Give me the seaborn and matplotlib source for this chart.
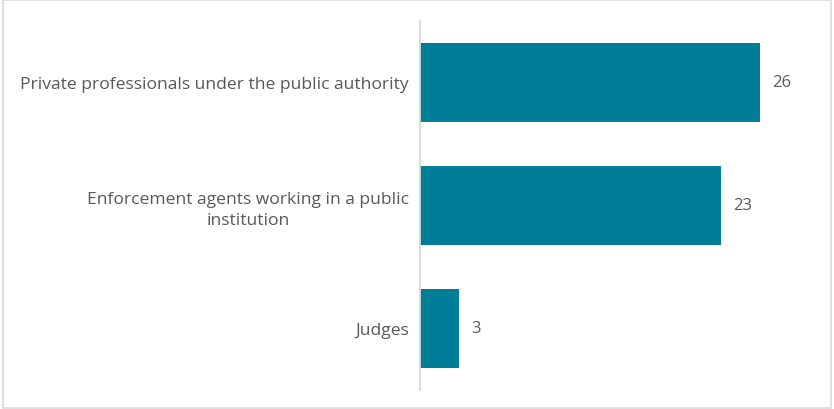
import matplotlib
matplotlib.use("Agg")
import matplotlib.pyplot as plt
import seaborn as sns
import pandas as pd
from matplotlib.patches import Rectangle

categories = [
    "Private professionals under the public authority",
    "Enforcement agents working in a public\ninstitution",
    "Judges",
]
values = [26, 23, 3]

bar_color = "#007E98"
text_color = "#595959"

sns.set_theme(style="white")
plt.rcParams["font.family"] = ["Open Sans", "DejaVu Sans"]

df = pd.DataFrame({"category": categories, "value": values})

fig = plt.figure(figsize=(8.34, 4.10), dpi=100)
ax = fig.add_axes([420 / 834, 1 - 391 / 410, 392 / 834, 369 / 410])

sns.barplot(data=df, x="value", y="category", orient="h", color=bar_color,
            width=0.65, saturation=1, linewidth=0, ax=ax)

ax.set_xlim(0, 30)
ax.set_ylim(2.5, -0.5)
ax.set_xlabel("")
ax.set_ylabel("")
ax.set_xticks([])
for s in ["top", "right", "bottom"]:
    ax.spines[s].set_visible(False)
ax.spines["left"].set_color("#D9D9D9")
ax.spines["left"].set_linewidth(1.3)

ax.tick_params(axis="y", length=0, pad=8, labelsize=12.6, labelcolor=text_color)
for lbl in ax.get_yticklabels():
    lbl.set_multialignment("center")
    lbl.set_linespacing(1.4)

for i, v in enumerate(values):
    ax.annotate(f"{v}", xy=(v, i), xytext=(9, 0), textcoords="offset points",
                ha="left", va="center", fontsize=12, color=text_color)

# figure frame
fig.patches.append(Rectangle((0.003, 0.003), 0.994, 0.994, transform=fig.transFigure,
                             fill=False, edgecolor="#D9D9D9", linewidth=1.2))

fig.savefig("out.png", dpi=100)
